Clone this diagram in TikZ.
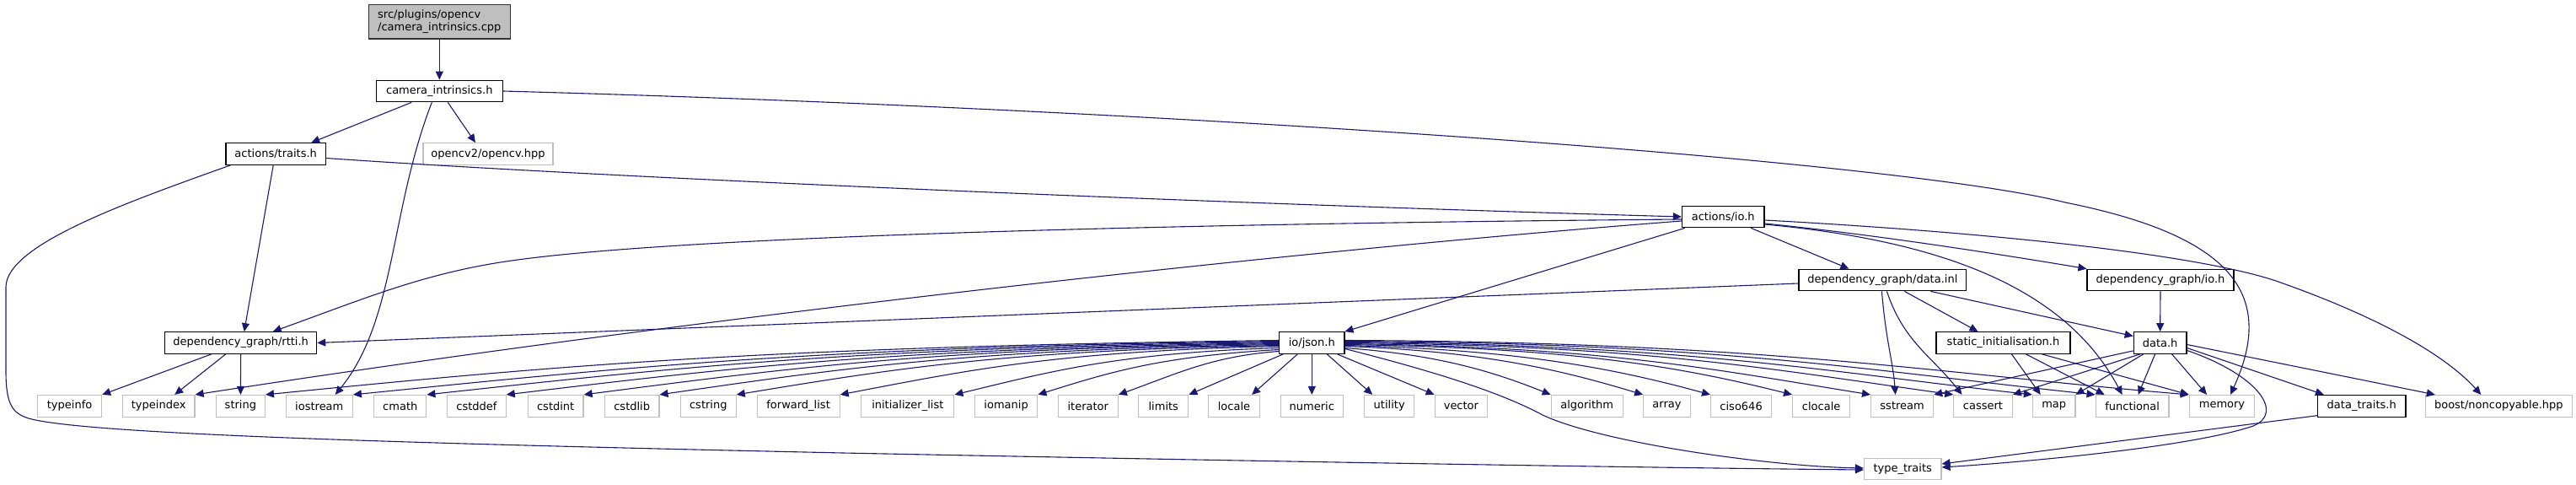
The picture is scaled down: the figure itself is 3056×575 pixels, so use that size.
\documentclass[tikz,border=0pt]{standalone}
\usepackage{fontspec}
\setmainfont{DejaVu Sans}
\usetikzlibrary{arrows.meta,calc}
\definecolor{edgec}{HTML}{191970}
\definecolor{grayb}{HTML}{BFBFBF}
\definecolor{srcfill}{HTML}{BFBFBF}
\tikzset{
  box/.style={font=\fontsize{13}{15}\selectfont, minimum height=25.6pt, inner sep=0pt, fill=white, line width=1.2pt},
  hdr/.style={box, draw=black},
  sys/.style={box, draw=grayb},
  srcbox/.style={font=\fontsize{13}{15}\selectfont, draw=black!80, fill=srcfill, line width=1.3pt, align=left, inner xsep=10.5pt, inner ysep=0pt, minimum height=40.3pt, minimum width=167.7pt},
  edge/.style={draw=edgec, line width=1.1pt, -{Triangle[length=10pt,width=9pt]}},
}
\newcommand{\jl}[4]{\draw[edge] ($(json.west)+(0,#2)$) .. controls +(#3) and +(#4) .. (#1.north east);}
\newcommand{\jr}[4]{\draw[edge] ($(json.east)+(0,#2)$) .. controls +(#3) and +(#4) .. (#1.north west);}
\begin{document}
\begin{tikzpicture}[x=1pt,y=-1pt]
\useasboundingbox (0,0) rectangle (3056,575);
% nodes
\node[srcbox] (src) at (521.3,25.9) {src/plugins/opencv\\/camera\_intrinsics.cpp};
\node[hdr, minimum width=150pt] (cam) at (521.3,108) {camera\_intrinsics.h};
\node[hdr, minimum width=118.6pt] (traits) at (327.2,182.5) {actions/traits.h};
\node[sys, minimum width=154pt] (opencv) at (579,182.5) {opencv2/opencv.hpp};
\node[hdr, minimum width=97.6pt] (io) at (2044.2,257) {actions/io.h};
\node[hdr, minimum width=198.7pt] (datainl) at (2233.4,332) {dependency\_graph/data.inl};
\node[hdr, minimum width=174pt] (dgio) at (2563,332) {dependency\_graph/io.h};
\node[hdr, minimum width=180pt] (rtti) at (285.7,406.5) {dependency\_graph/rtti.h};
\node[hdr, minimum width=77.2pt] (json) at (1556.3,406.5) {io/json.h};
\node[hdr, minimum width=159pt] (statinit) at (2376.5,406.5) {static\_initialisation.h};
\node[hdr, minimum width=62.7pt] (datah) at (2562.6,406.5) {data.h};
\node[sys, minimum width=76pt] (typeinfo) at (82.6,481.3) {typeinfo};
\node[sys, minimum width=85.5pt] (typeindex) at (188.2,481.3) {typeindex};
\node[sys, minimum width=58pt] (string) at (285.4,481.3) {string};
\node[sys, minimum width=79pt] (iostream) at (378.8,481.3) {iostream};
\node[sys, minimum width=62pt] (cmath) at (474.8,481.3) {cmath};
\node[sys, minimum width=69.5pt] (cstddef) at (565.4,481.3) {cstddef};
\node[sys, minimum width=65.7pt] (cstdint) at (659.2,481.3) {cstdint};
\node[sys, minimum width=64.4pt] (cstdlib) at (749.7,481.3) {cstdlib};
\node[sys, minimum width=65.7pt] (cstring) at (840.3,481.3) {cstring};
\node[sys, minimum width=98pt] (fwdlist) at (947.1,481.3) {forward\_list};
\node[sys, minimum width=110pt] (initlist) at (1076.8,481.3) {initializer\_list};
\node[sys, minimum width=74.4pt] (iomanip) at (1193.6,481.3) {iomanip};
\node[sys, minimum width=71pt] (iterator) at (1290.8,481.3) {iterator};
\node[sys, minimum width=59pt] (limits) at (1380.3,481.3) {limits};
\node[sys, minimum width=61pt] (locale) at (1464,481.3) {locale};
\node[sys, minimum width=74.4pt] (numeric) at (1556.3,481.3) {numeric};
\node[sys, minimum width=59pt] (utility) at (1648.2,481.3) {utility};
\node[sys, minimum width=62.4pt] (vector) at (1733.4,481.3) {vector};
\node[sys, minimum width=85pt] (algorithm) at (1882.7,481.3) {algorithm};
\node[sys, minimum width=55.5pt] (array) at (1977.5,481.3) {array};
\node[sys, minimum width=72pt] (ciso) at (2065.6,481.3) {ciso646};
\node[sys, minimum width=68pt] (clocale) at (2160.6,481.3) {clocale};
\node[sys, minimum width=74pt] (sstream) at (2256.6,481.3) {sstream};
\node[sys, minimum width=69.4pt] (cassert) at (2352.5,481.3) {cassert};
\node[sys, minimum width=50.5pt] (map) at (2436.7,481.3) {map};
\node[sys, minimum width=86.9pt] (functional) at (2529.6,481.3) {functional};
\node[sys, minimum width=77.4pt] (memory) at (2636,481.3) {memory};
\node[hdr, minimum width=104.4pt] (datatraits) at (2801.7,481.3) {data\_traits.h};
\node[sys, minimum width=173.8pt] (boost) at (2964.3,481.3) {boost/noncopyable.hpp};
\node[sys, minimum width=91.6pt] (typetraits) at (2257.2,556) {type\_traits};
% edges: source file and camera_intrinsics.h
\draw[edge] (src.south) -- (cam.north);
\draw[edge] ($(cam.south)+(-33,0)$) -- ($(traits.north)+(42,0)$);
\draw[edge] ($(cam.south)+(10,0)$) -- ($(opencv.north)+(-15,0)$);
\draw[edge] ($(cam.south)+(-9,0)$) .. controls +(-50,129) and +(72,-88.5) .. ($(iostream.north)+(19,0)$);
\draw[edge] (cam.east) .. controls (1400,130) and (2250,190) .. (2450,240)
  .. controls (2650,280) and (2700,350) .. ($(memory.north)+(10,0)$);
% actions/traits.h
\draw[edge] ($(traits.south)+(-3,0)$) -- ($(rtti.north)+(4,0)$);
\draw[edge] ($(traits.east)+(0,5)$) .. controls +(313,22) and +(-595,-17) .. (io.west);
\draw[edge] ($(traits.south west)+(6,0)$) .. controls (150,240) and (8,290) .. (7,340) -- (7,440)
  .. controls (7,480) and (15,490) .. (34,496) .. controls (100,515) and (500,526) .. (1000,537)
  .. controls (1600,549) and (2000,555) .. ($(typetraits.west)+(0,1)$);
% actions/io.h
\draw[edge] ($(io.west)+(0,3)$) .. controls (1400,265) and (800,280) .. (600,310)
  .. controls (500,325) and (430,355) .. ($(rtti.north)+(38,0)$);
\draw[edge] ($(io.west)+(0,5)$) .. controls +(-495,38) and +(569,-88) .. (typeindex.north east);
\draw[edge] ($(io.south west)+(4,0)$) -- (json.north east);
\draw[edge] ($(io.south)+(33,0)$) -- ($(datainl.north)+(-40,0)$);
\draw[edge] ($(io.east)+(0,8)$) .. controls +(120,12) and +(-120,-20) .. (dgio.north west);
\draw[edge] ($(io.east)+(0,9)$) .. controls +(207,19) and +(-68,-128) .. ($(functional.north)+(-12,0)$);
\draw[edge] ($(io.east)+(0,4)$) .. controls (2350,275) and (2600,300) .. (2700,333)
  .. controls (2820,375) and (2900,420) .. ($(boost.north)+(-21,0)$);
% dependency_graph/rtti.h
\draw[edge] ($(rtti.south)+(-35,0)$) -- (typeinfo.north east);
\draw[edge] ($(rtti.south)+(-18,0)$) -- ($(typeindex.north)+(19,0)$);
\draw[edge] (rtti.south) -- (string.north);
% dependency_graph/data.inl
\draw[edge] ($(datainl.west)+(0,4)$) -- (rtti.east);
\draw[edge] ($(datainl.south)+(26,0)$) -- ($(statinit.north)+(-30,0)$);
\draw[edge] ($(datainl.south)+(57,0)$) -- ($(datah.west)+(0,-8)$);
\draw[edge] ($(datainl.south)+(-1,0)$) .. controls +(5,60) and +(-3,-40) .. ($(sstream.north)+(-8,0)$);
\draw[edge] ($(datainl.south)+(5,0)$) .. controls +(20,60) and +(-35,-45) .. ($(cassert.north)+(-25,0)$);
% dependency_graph/io.h
\draw[edge] (dgio.south) -- (datah.north);
% static_initialisation.h
\draw[edge] ($(statinit.south)+(10,0)$) -- ($(map.north)+(-16,0)$);
\draw[edge] ($(statinit.south)+(27,0)$) -- ($(functional.north)+(-33,0)$);
\draw[edge] ($(statinit.south)+(46,0)$) -- (memory.north west);
% data.h
\draw[edge] ($(datah.south west)+(0,-4)$) -- (sstream.north east);
\draw[edge] ($(datah.south west)+(8,0)$) -- (cassert.north east);
\draw[edge] ($(datah.south)+(-20,0)$) -- (map.north east);
\draw[edge] ($(datah.south)+(-6,0)$) -- ($(functional.north)+(7,0)$);
\draw[edge] ($(datah.south)+(14,0)$) -- ($(memory.north)+(-18,0)$);
\draw[edge] ($(datah.east)+(0,6)$) -- ($(datatraits.north west)+(8,0)$);
\draw[edge] ($(datah.east)+(0,2)$) -- ($(boost.north west)+(12,0)$);
\draw[edge] ($(datah.east)+(0,9)$) .. controls (2680,445) and (2710,490) .. (2673,505)
  .. controls (2600,530) and (2400,548) .. ($(typetraits.east)+(0,-2)$);
\draw[edge] ($(datatraits.south west)+(0,-2)$) -- ($(typetraits.east)+(0,-6)$);
% io/json.h, left fan
\jl{string}{-3}{-602,8}{361,-36}
\jl{iostream}{-2}{-550,7}{330,-33}
\jl{cmath}{-1}{-506,7}{304,-33}
\jl{cstddef}{0}{-459,7}{275,-33}
\jl{cstdint}{1}{-413,6}{248,-32}
\jl{cstdlib}{2}{-368,6}{221,-32}
\jl{cstring}{3}{-322,6}{194,-32}
\jl{fwdlist}{4}{-261,6}{157,-30}
\jl{initlist}{6}{-190,6}{116,-28}
\jl{iomanip}{8}{-140,8}{86,-27}
\jl{iterator}{10}{-80,6}{70,-25}
\draw[edge] ($(json.south west)+(5,0)$) -- (limits.north east);
\draw[edge] ($(json.south)+(-17,0)$) -- ($(locale.north east)+(-10,0)$);
\draw[edge] (json.south) -- (numeric.north);
\draw[edge] ($(json.south)+(18,0)$) -- ($(utility.north)+(-20,0)$);
\draw[edge] ($(json.south east)+(-9,0)$) -- (vector.north west);
% io/json.h, right fan
\jr{algorithm}{6}{110,8}{-70,-28}
\jr{array}{4}{170,6}{-90,-27}
\jr{ciso}{3}{210,5}{-110,-30}
\jr{clocale}{2}{265,4}{-140,-35}
\jr{sstream}{1}{312,4}{-187,-30}
\jr{cassert}{0}{361,3}{-217,-30}
\jr{map}{-1}{408,3}{-245,-27}
\jr{functional}{-2}{445,2}{-267,-28}
\jr{memory}{-3}{500,2}{-300,-25}
\draw[edge] ($(json.east)+(0,7)$) .. controls (1700,440) and (1780,465) .. (1830,492)
  .. controls (1900,525) and (2100,553) .. ($(typetraits.west)+(0,-1)$);
\end{tikzpicture}
\end{document}
